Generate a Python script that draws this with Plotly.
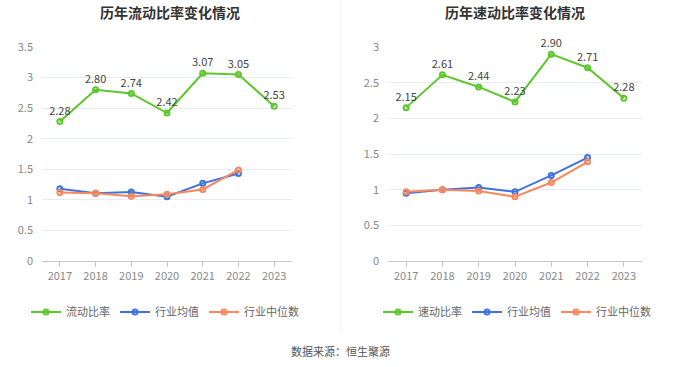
import plotly.graph_objects as go

years = ["2017", "2018", "2019", "2020", "2021", "2022", "2023"]
current_ratio = [2.28, 2.80, 2.74, 2.42, 3.07, 3.05, 2.53]
current_avg = [1.18, 1.11, 1.13, 1.05, 1.27, 1.43]
current_median = [1.12, 1.11, 1.06, 1.09, 1.17, 1.49]
quick_ratio = [2.15, 2.61, 2.44, 2.23, 2.90, 2.71, 2.28]
quick_avg = [0.95, 1.00, 1.03, 0.97, 1.20, 1.45]
quick_median = [0.97, 1.00, 0.98, 0.90, 1.10, 1.39]

GREEN = "#5cc72a"
BLUE = "#3f73dc"
ORANGE = "#f7875c"
FONT = "Noto Sans CJK SC"

fig = go.Figure()

def add_series(xa, ya, main, avg, med, main_name, legend):
    fig.add_trace(go.Scatter(
        x=years, y=main, name=main_name, mode="lines+markers+text",
        text=[f"{v:.2f}" for v in main], textposition="top center",
        textfont=dict(size=11, color="#444", family=FONT),
        line=dict(color=GREEN, width=2),
        marker=dict(symbol="circle-open", size=5, color=GREEN, line=dict(width=2)),
        xaxis=xa, yaxis=ya, legend=legend, cliponaxis=False))
    fig.add_trace(go.Scatter(
        x=years[:len(avg)], y=avg, name="行业均值", mode="lines+markers",
        line=dict(color=BLUE, width=2),
        marker=dict(symbol="circle-open", size=5, color=BLUE, line=dict(width=2)),
        xaxis=xa, yaxis=ya, legend=legend))
    fig.add_trace(go.Scatter(
        x=years[:len(med)], y=med, name="行业中位数", mode="lines+markers",
        line=dict(color=ORANGE, width=2),
        marker=dict(symbol="circle-open", size=5, color=ORANGE, line=dict(width=2)),
        xaxis=xa, yaxis=ya, legend=legend))

add_series("x", "y", current_ratio, current_avg, current_median, "流动比率", "legend")
add_series("x2", "y2", quick_ratio, quick_avg, quick_median, "速动比率", "legend2")

ydom = [(367 - 261) / 367, (367 - 47) / 367]
xcommon = dict(type="category", range=[-0.5, 6.5], showgrid=False,
               showline=True, linecolor="#c8c8c8", linewidth=1,
               ticks="outside", tickcolor="#c8c8c8", ticklen=5,
               tickfont=dict(size=11, color="#888", family=FONT), fixedrange=True)
ycommon = dict(showgrid=True, gridcolor="#e6ebf5", gridwidth=1, zeroline=False,
               showline=False, tickfont=dict(size=11, color="#888", family=FONT),
               dtick=0.5, ticks="", ticklabelstandoff=8)

legcommon = dict(orientation="h", yanchor="middle", xanchor="center",
                 font=dict(size=11, color="#666", family=FONT),
                 bgcolor="rgba(0,0,0,0)", tracegroupgap=0)

fig.update_layout(
    width=680, height=367,
    margin=dict(l=0, r=0, t=0, b=0, autoexpand=False),
    paper_bgcolor="white", plot_bgcolor="white",
    font=dict(family=FONT),
    showlegend=True,
    xaxis=dict(domain=[42 / 680, 292 / 680], anchor="y", **xcommon),
    yaxis=dict(domain=ydom, anchor="x", range=[0, 3.5], **ycommon),
    xaxis2=dict(domain=[388 / 680, 642 / 680], anchor="y2", **xcommon),
    yaxis2=dict(domain=ydom, anchor="x2", range=[0, 3], **ycommon),
    legend=dict(x=165 / 680, y=(367 - 312) / 367, **legcommon),
    legend2=dict(x=517 / 680, y=(367 - 312) / 367, **legcommon),
    annotations=[
        dict(text="<b>历年流动比率变化情况</b>", x=170 / 680, y=(367 - 12) / 367,
             xref="paper", yref="paper", showarrow=False, xanchor="center", yanchor="middle",
             font=dict(size=14, color="#333", family=FONT)),
        dict(text="<b>历年速动比率变化情况</b>", x=515 / 680, y=(367 - 12) / 367,
             xref="paper", yref="paper", showarrow=False, xanchor="center", yanchor="middle",
             font=dict(size=14, color="#333", family=FONT)),
        dict(text="数据来源：恒生聚源", x=0.5, y=(367 - 351) / 367,
             xref="paper", yref="paper", showarrow=False, xanchor="center", yanchor="middle",
             font=dict(size=11, color="#555", family=FONT)),
    ],
    shapes=[dict(type="line", xref="paper", yref="paper",
                 x0=341 / 680, x1=341 / 680, y0=(367 - 330) / 367, y1=1,
                 line=dict(color="#eeeeee", width=1))],
)

fig.write_html("out.html", post_script="document.body.style.margin='0';",
               config={"displayModeBar": False})
